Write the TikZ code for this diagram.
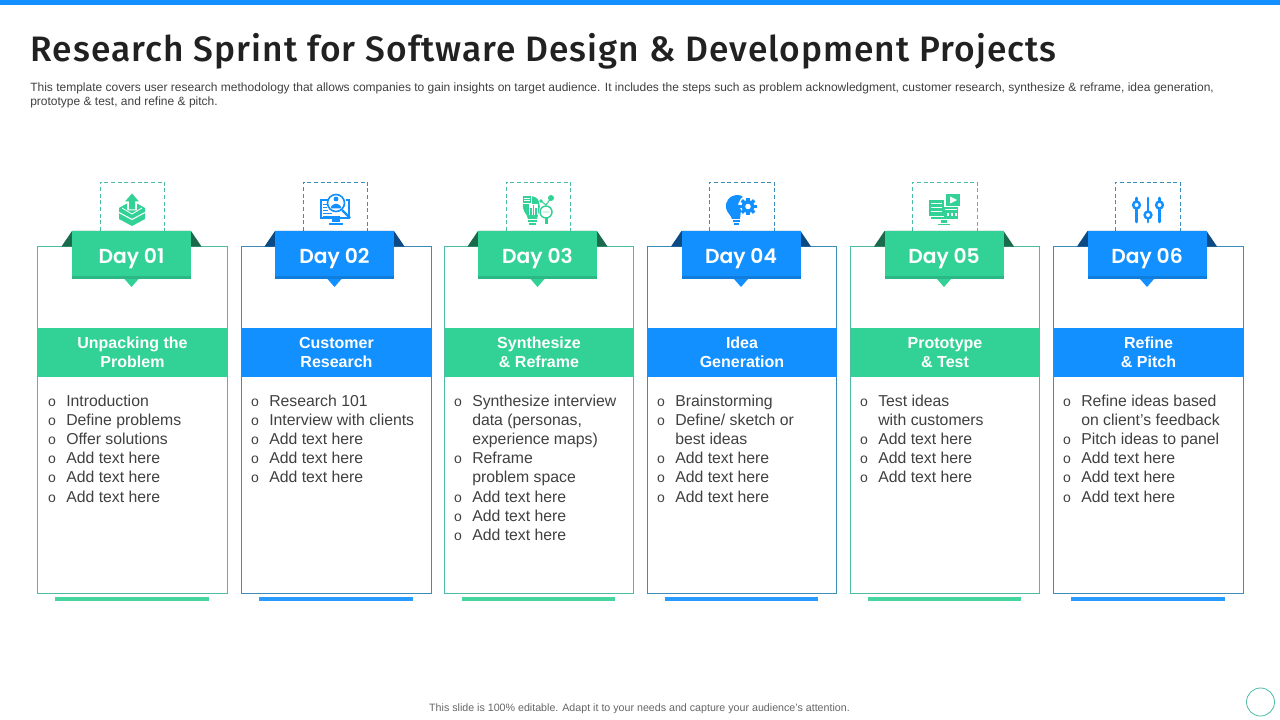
\documentclass[tikz,border=0pt]{standalone}
\usepackage{fontspec}
\setmainfont{Liberation Sans}
\newfontfamily\popfont[LetterSpace=2.9]{Fira Sans Medium}
\newfontfamily\dayfont{Poppins SemiBold}
\usetikzlibrary{calc}
\definecolor{bluemain}{HTML}{1290FF}
\definecolor{greenmain}{HTML}{32D296}
\definecolor{greendark}{HTML}{196B4C}
\definecolor{bluedark}{HTML}{0B4A85}
\definecolor{greenedge}{HTML}{4DBBA6}
\definecolor{blueedge}{HTML}{3C8DBC}
\definecolor{bodytext}{HTML}{404040}
\definecolor{greenlow}{HTML}{2BB884}
\definecolor{bluelow}{HTML}{107CDC}
\tikzset{
 card/.style={draw=#1,line width=0.8pt,fill=white},
 dashbox/.style={draw=#1,line width=0.5pt,dash pattern=on 3pt off 2pt},
 headtext/.style={text=white,font=\fontsize{12pt}{14.4pt}\selectfont\bfseries,align=center,inner sep=0pt},
 daytext/.style={text=white,font=\dayfont\fontsize{15.2pt}{18pt}\selectfont,inner sep=0pt,anchor=base},
 itemtext/.style={text=bodytext,font=\fontsize{11.85pt}{14pt}\selectfont,anchor=base west,inner sep=0pt},
 bullettext/.style={text=bodytext,font=\fontsize{10.5pt}{12pt}\selectfont,anchor=base,inner sep=0pt},
 x=0.75pt,y=-0.75pt
}
% #1 name #2 left #3 right #4 ribbon centre #5 main #6 dark #7 edge #8 low #9 heading
\newcommand{\cardcol}[9]{%
 \draw[dashbox=#7] (#4-31.5,231) -- (#4-31.5,182) -- (#4+33,182) -- (#4+33,231);
 \draw[card=#7] (#2,246.5) rectangle (#3,593.5);
 \fill[#6] (#4-70,246.5) -- (#4-59.5,231) -- (#4+59.5,231) -- (#4+70,246.5) -- cycle;
 \fill[#5] (#4-59.5,231) rectangle (#4+59.5,276);
 \fill[#8] (#4-59.5,276) rectangle (#4+59.5,279);
 \fill[#5] (#4-7,279) -- (#4,287) -- (#4+7,279) -- cycle;
 \fill[#5] (#2,328) rectangle (#3,377);
 \node[headtext] (#1head) at ({(#2+#3)/2},352.5) {#9};
 \fill[#5,opacity=.9] (#2+17.5,597) rectangle (#3-18.5,601);
}
\newcommand{\dayname}[2]{\node[daytext] at (#1,263) {#2};}
\newcommand{\itm}[3]{\node[bullettext] at (#1-14,#2+5.5) {o}; \node[itemtext] at (#1,#2+5.5) {#3};}
\newcommand{\cont}[3]{\node[itemtext] at (#1,#2+5.5) {#3};}
\begin{document}
\begin{tikzpicture}
\useasboundingbox (0,0) rectangle (1280,720);
\fill[white] (0,0) rectangle (1280,720);
\fill[bluemain] (0,0) rectangle (1280,5);
\node[anchor=base west,inner sep=0pt,text=black!87,font=\popfont\fontsize{26.5pt}{30pt}\selectfont] (title) at (30.5,62) {Research Sprint for Software Design \& Development Projects};
\node[anchor=base west,inner sep=0pt,text=bodytext,font=\fontsize{9pt}{10.6pt}\selectfont,align=left] (desc) at (30,105.5) {This template covers user research methodology that allows companies to gain insights on target audience. It includes the steps such as problem acknowledgment, customer research, synthesize \& reframe, idea generation,\\prototype \& test, and refine \& pitch.};
\cardcol{a}{37.5}{227.5}{131.5}{greenmain}{greendark}{greenedge}{greenlow}{Unpacking the\\Problem}
\cardcol{b}{241.5}{431.5}{334.5}{bluemain}{bluedark}{blueedge}{bluelow}{Customer\\Research}
\cardcol{c}{444.5}{633.5}{537.5}{greenmain}{greendark}{greenedge}{greenlow}{Synthesize\\\& Reframe}
\cardcol{d}{647.5}{836.5}{741}{bluemain}{bluedark}{blueedge}{bluelow}{Idea\\Generation}
\cardcol{e}{850.5}{1039.5}{944}{greenmain}{greendark}{greenedge}{greenlow}{Prototype\\\& Test}
\cardcol{f}{1053.5}{1243.5}{1147}{bluemain}{bluedark}{blueedge}{bluelow}{Refine\\\& Pitch}
\dayname{131.5}{Day 01}\dayname{334.5}{Day 02}\dayname{537.5}{Day 03}\dayname{741}{Day 04}\dayname{944}{Day 05}\dayname{1147}{Day 06}
\itm{66}{401}{Introduction}\itm{66}{420}{Define problems}\itm{66}{439}{Offer solutions}\itm{66}{458}{Add text here}\itm{66}{477}{Add text here}\itm{66}{497}{Add text here}
\itm{269}{401}{Research 101}\itm{269}{420}{Interview with clients}\itm{269}{439}{Add text here}\itm{269}{458}{Add text here}\itm{269}{477}{Add text here}
\itm{472}{401}{Synthesize interview}\cont{472}{420}{data (personas,}\cont{472}{439}{experience maps)}\itm{472}{458}{Reframe}\cont{472}{477}{problem space}\itm{472}{497}{Add text here}\itm{472}{516}{Add text here}\itm{472}{535}{Add text here}
\itm{675}{401}{Brainstorming}\itm{675}{420}{Define/ sketch or}\cont{675}{439}{best ideas}\itm{675}{458}{Add text here}\itm{675}{477}{Add text here}\itm{675}{497}{Add text here}
\itm{878}{401}{Test ideas}\cont{878}{420}{with customers}\itm{878}{439}{Add text here}\itm{878}{458}{Add text here}\itm{878}{477}{Add text here}
\itm{1081}{401}{Refine ideas based}\cont{1081}{420}{on client’s feedback}\itm{1081}{439}{Pitch ideas to panel}\itm{1081}{458}{Add text here}\itm{1081}{477}{Add text here}\itm{1081}{497}{Add text here}
% icon 1
\fill[greenmain] (119,208) -- (127,203.5) -- (127,210.5) -- (137,210.5) -- (137,203.5) -- (145,208) -- (145,219) -- (132,226) -- (119,219) -- cycle;
\draw[white,line width=.8pt] (119,212.5) -- (132,219.5) -- (145,212.5);
\draw[white,line width=.6pt] (122,208) -- (132,214) -- (142,208);
\fill[greenmain] (132,193.5) -- (139,201.5) -- (135,201.5) -- (135,209.5) -- (129,209.5) -- (129,201.5) -- (125,201.5) -- cycle;
% icon 2
\begin{scope}[bluemain]
\draw[line width=1pt] (321,200) rectangle (349,218);
\fill[white] (329,194) rectangle (346,214);
\draw[line width=1.2pt] (336,203) circle (8.5);
\fill (336,199) circle (2.4);
\fill (330.5,208.5) .. controls (332,202) and (340,202) .. (341.5,208.5) -- cycle;
\draw[line width=1.8pt] (342,210) -- (350,218);
\fill (332,218) rectangle (340,222);
\fill (329,223) rectangle (343,225);
\draw[line width=.6pt] (323,204) -- (327,204) (323,207) -- (327,207) (323,210) -- (328,210) (323,213) -- (332,213) (323,216) -- (340,216);
\end{scope}
% icon 3
\begin{scope}[greenmain]
\fill (530,196) .. controls (524,196) and (521,204) .. (524,211) .. controls (526,215) and (528,216) .. (528,219) -- (537,219) -- (539,211) .. controls (541,206) and (540,196) .. (530,196) -- cycle;
\fill[white] (529,204) rectangle (538,215);
\draw[line width=1pt] (531,216) -- (531,208) (533.5,216) -- (533.5,205) (536,216) -- (536,208);
\fill (528,220) rectangle (537,222);
\fill (529,223.5) rectangle (536,225.5);
\fill[white] (522,195) rectangle (532,204);
\fill (523,196) rectangle (531,203);
\draw[white,line width=.5pt] (524,198.5) -- (530,198.5) (524,200.5) -- (530,200.5);
\draw[line width=1.1pt] (546,212) circle (6);
\fill (544,212) circle (.6) (546,212) circle (.6) (548,212) circle (.6);
\fill (544.5,218) rectangle (547.5,224.5);
\fill (551,198) circle (3) (541,201) circle (1.8);
\draw[line width=.8pt] (541,201) -- (546,205) -- (551,198);
\end{scope}
% icon 4
\begin{scope}[bluemain]
\fill (738,195) .. controls (729,195) and (725,202) .. (726,208) .. controls (727,213) and (731,215) .. (732,219) -- (740,219) -- (741,210) -- (738,204) -- (741,198) -- (743,197) .. controls (742,196) and (740,195) .. (738,195) -- cycle;
\fill (733,220) rectangle (740,222);
\fill (734,223) rectangle (739,225);
\fill[even odd rule] (748,206.5) circle (6.3) (748,206.5) circle (2.9);
\foreach \a in {0,45,...,315}{\fill[shift={(748,206.5)},rotate=\a] (-1.7,-8.8) rectangle (1.7,-5);}
\end{scope}
% icon 5
\begin{scope}[greenmain]
\fill (946,194) rectangle (960,206);
\fill[white] (950,196.5) -- (957,200) -- (950,203.5) -- cycle;
\fill (929,200) rectangle (944,216);
\fill (944,207) rectangle (958,218);
\foreach \yy in {203,207,211}{\draw[white,line width=.6pt] (931,\yy) -- (942,\yy);}
\foreach \xx in {947,951,955}{\fill[white] (\xx,213) rectangle (\xx+2,216);}
\draw[white,line width=.6pt] (945,209.5) -- (957,209.5);
\fill (931,217) rectangle (958,219.5);
\fill (941,220) rectangle (947,223);
\fill (938,224) rectangle (950,225.5);
\end{scope}
% icon 6
\begin{scope}[bluemain,line width=2.1pt,line cap=round]
\draw (1136.5,198) -- (1136.5,222) (1148,198) -- (1148,222) (1159.5,198) -- (1159.5,222);
\fill[white,draw=bluemain,line width=1.8pt] (1136.5,205) circle (3.4);
\fill[white,draw=bluemain,line width=1.8pt] (1148,215) circle (3.4);
\fill[white,draw=bluemain,line width=1.8pt] (1159.5,205) circle (3.4);
\end{scope}
\node[anchor=base,inner sep=0pt,text=black!60,font=\fontsize{8pt}{10pt}\selectfont] (foot) at (639.5,711) {This slide is 100\% editable. Adapt it to your needs and capture your audience's attention.};
\node[circle,draw=greenedge,line width=0.6pt,fill=white,minimum size=21pt,inner sep=0pt] (nav) at (1260.5,702) {};
\end{tikzpicture}
\end{document}
